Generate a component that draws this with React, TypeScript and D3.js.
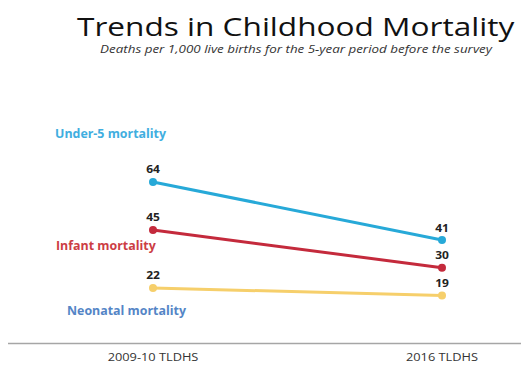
import React from "react";
import * as d3 from "d3";

const surveys = ["2009-10 TLDHS", "2016 TLDHS"];
const under5 = [64, 41];
const infant = [45, 30];
const neonatal = [22, 19];

const seriesNames = ["Under-5 mortality", "Infant mortality", "Neonatal mortality"];

const W = 521;
const H = 366;
const FONT = "'Open Sans', sans-serif";

type LabelProps = {
  x: number;
  y: number;
  sx?: number;
  size: number;
  anchor?: "start" | "middle" | "end";
  weight?: string;
  italic?: boolean;
  fill: string;
  children: React.ReactNode;
};

// Text drawn with a horizontal stretch around its anchor point.
function Label({ x, y, sx = 1, size, anchor = "start", weight, italic, fill, children }: LabelProps) {
  return (
    <text
      transform={`translate(${x},${y}) scale(${sx},1)`}
      textAnchor={anchor}
      fontSize={size}
      fontWeight={weight}
      fontStyle={italic ? "italic" : undefined}
      fill={fill}
    >
      {children}
    </text>
  );
}

export default function App() {
  const x = d3.scalePoint<string>().domain(surveys).range([153, 442]);
  const y = d3.scaleLinear().domain([0, 70]).range([343.5, 166.8]);

  const series = [
    { name: seriesNames[0], values: under5, line: "#27a9d8", text: "#41aee0", lx: 55, ly: 138 },
    { name: seriesNames[1], values: infant, line: "#c42a3c", text: "#cc3d44", lx: 56, ly: 250 },
    { name: seriesNames[2], values: neonatal, line: "#f6cf6b", text: "#5485c6", lx: 67, ly: 315 },
  ];

  const line = d3
    .line<number>()
    .x((_, i) => x(surveys[i]) as number)
    .y((d) => y(d));

  return (
    <svg
      width={W}
      height={H}
      style={{ position: "absolute", left: 0, top: 0, background: "#fff" }}
      fontFamily={FONT}
    >
      <Label x={77} y={35.7} sx={1.235} size={25.6} fill="#111">
        Trends in Childhood Mortality
      </Label>
      <Label x={296} y={53.3} sx={1.34} size={10} italic anchor="middle" fill="#333">
        Deaths per 1,000 live births for the 5-year period before the survey
      </Label>

      <line x1={8} x2={W} y1={343.5} y2={343.5} stroke="#a6a6a6" strokeWidth={1.5} />
      {surveys.map((s) => (
        <Label key={s} x={x(s) as number} y={361} sx={1.28} size={10} anchor="middle" fill="#333">
          {s}
        </Label>
      ))}

      {series.map((s) => (
        <g key={s.name}>
          <path d={line(s.values) || ""} fill="none" stroke={s.line} strokeWidth={3} />
          {s.values.map((v, i) => (
            <g key={i}>
              <circle cx={x(surveys[i])} cy={y(v)} r={4} fill={s.line} />
              <Label
                x={x(surveys[i]) as number}
                y={y(v) - 8.5}
                sx={1.2}
                size={10}
                weight="bold"
                anchor="middle"
                fill="#222"
              >
                {v}
              </Label>
            </g>
          ))}
          <Label x={s.lx} y={s.ly} sx={1.08} size={11.5} weight="bold" fill={s.text}>
            {s.name}
          </Label>
        </g>
      ))}
    </svg>
  );
}
